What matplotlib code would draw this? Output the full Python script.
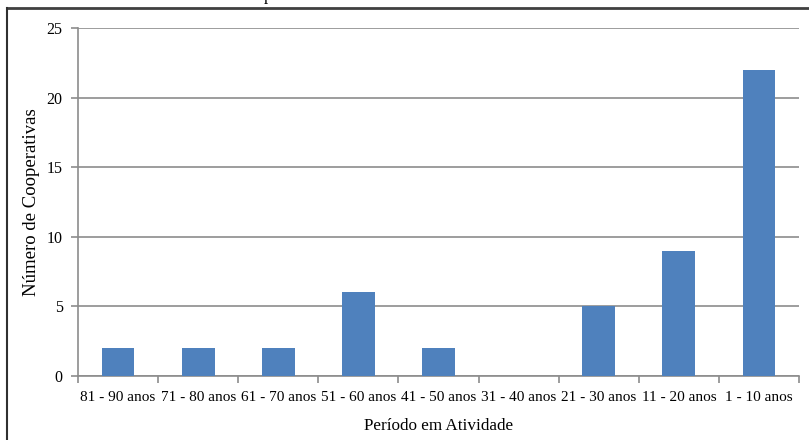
import matplotlib
matplotlib.use("Agg")
import matplotlib.pyplot as plt
from matplotlib.lines import Line2D

periodos = ["81 - 90 anos", "71 - 80 anos", "61 - 70 anos", "51 - 60 anos",
            "41 - 50 anos", "31 - 40 anos", "21 - 30 anos", "11 - 20 anos",
            "1 - 10 anos"]
cooperativas = [2, 2, 2, 6, 2, 0, 5, 9, 22]
yticks = [0, 5, 10, 15, 20, 25]

plt.rcParams['font.family'] = ['Liberation Serif', 'DejaVu Serif']

W, H = 809, 440
fig = plt.figure(figsize=(W / 100, H / 100), dpi=100)
ax = fig.add_axes([78 / W, 1 - 376 / H, (799 - 78) / W, (376 - 28) / H])

x = list(range(len(periodos)))
ax.bar(x, cooperativas, width=0.41, color="#4F81BD", zorder=3)

ax.set_xlim(-0.5, len(periodos) - 0.5)
ax.set_ylim(0, 25)
ax.set_yticks(yticks)
ax.yaxis.grid(True, color="#8C8C8C", linewidth=1.2, zorder=0)

ax.set_xticks([i - 0.5 for i in range(len(periodos) + 1)])
ax.set_xticklabels([])
ax.set_xticks(x, minor=True)
ax.set_xticklabels(periodos, minor=True)
ax.tick_params(axis="x", which="minor", length=0, labelsize=11, pad=11)
ax.tick_params(axis="x", which="major", length=5, color="#8C8C8C", width=1.2)
ax.tick_params(axis="y", length=5, color="#8C8C8C", width=1.2, labelsize=11.5, pad=6)

for s in ["top", "right"]:
    ax.spines[s].set_visible(False)
for s in ["left", "bottom"]:
    ax.spines[s].set_color("#8C8C8C")
    ax.spines[s].set_linewidth(1.2)

ax.set_xlabel("Período em Atividade", fontsize=12.3, labelpad=10)
ax.set_ylabel("Número de Cooperativas", fontsize=13.5, labelpad=5)

# moldura da página (cantos superior e esquerdo)
fig.add_artist(Line2D([7 / W, 1], [1 - 8 / H, 1 - 8 / H], color="#404040", linewidth=2))
fig.add_artist(Line2D([7 / W, 7 / W], [0, 1 - 8 / H], color="#303030", linewidth=1.5))
fig.text(268 / W, 1 + 4 / H, "p", fontsize=12, ha="center", va="center")

fig.savefig("out.png", dpi=100)
